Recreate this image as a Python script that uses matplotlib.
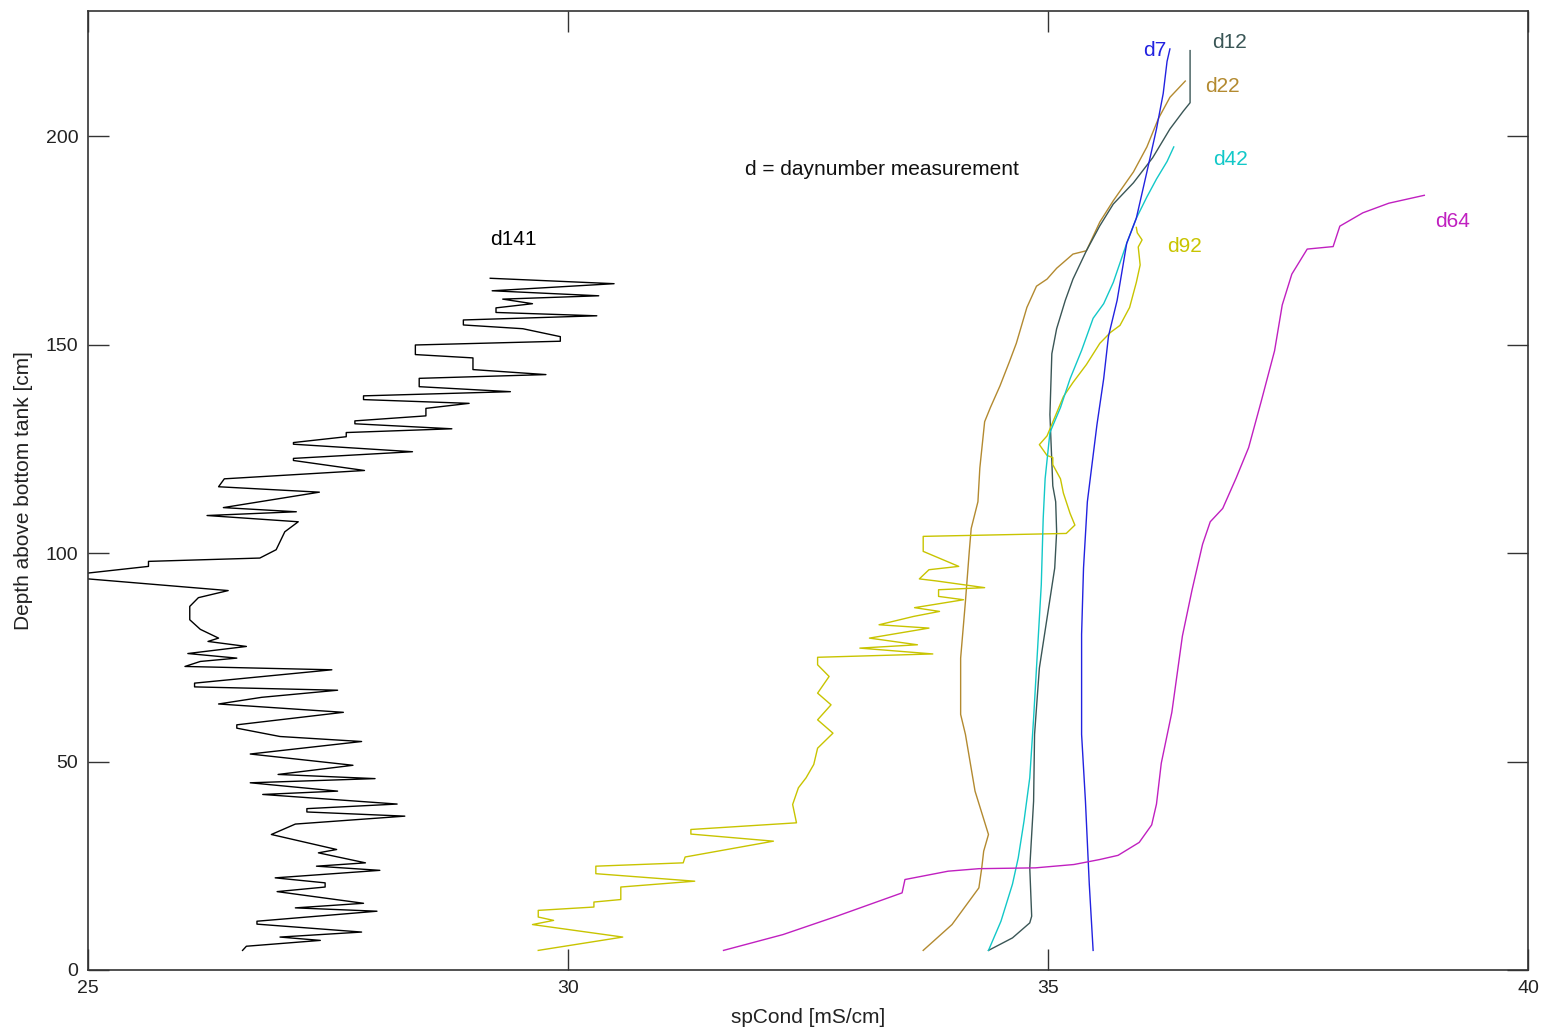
import matplotlib
matplotlib.use("Agg")
import matplotlib.pyplot as plt

plt.rcParams['font.family'] = ['Liberation Sans', 'DejaVu Sans']

# ---- data: (spCond [mS/cm], depth above bottom [cm]) ----
d141_x = [29.19, 30.48, 29.21, 30.32, 29.32, 29.63, 29.25, 29.25, 30.30, 28.91, 28.91, 29.53, 29.92, 29.92,
          28.41, 28.41, 29.01, 29.01, 29.77, 28.45, 28.45, 29.40, 27.87, 27.87, 28.97, 28.52, 28.52, 27.78,
          27.78, 28.79, 27.69, 27.69, 27.14, 27.14, 28.38, 27.14, 27.14, 27.88, 26.42, 26.36, 27.41, 26.41,
          27.17, 26.24, 27.19, 27.05, 26.96, 26.79, 25.63, 25.63, 25.00, 24.60, 25.00, 26.46,
          26.15, 26.06, 26.06, 26.17, 26.36, 26.25, 26.65, 26.04, 26.55, 26.17, 26.01, 27.54, 26.11, 26.11,
          27.60, 26.81, 26.36, 27.66, 26.55, 26.55, 27.00, 27.85, 26.69, 27.76, 26.98, 27.99, 26.69, 27.60,
          26.82, 28.22, 27.28, 27.28, 28.30, 27.16, 26.91, 27.59, 27.40, 27.89, 27.38, 28.04, 26.95, 27.47,
          27.47, 26.97, 27.87, 27.16, 28.01, 26.76, 26.76, 27.85, 27.00, 27.42, 26.65, 26.61]
d141_y = [165.9, 164.6, 162.9, 161.7, 160.9, 159.8, 158.8, 157.7, 156.9, 155.9, 154.7, 153.8, 151.9, 150.8,
          149.9, 147.6, 146.8, 144.0, 142.8, 141.9, 139.9, 138.7, 137.7, 136.8, 135.9, 134.7, 132.9, 131.7,
          131.0, 129.8, 128.9, 127.9, 126.5, 126.1, 124.3, 122.7, 122.2, 119.8, 117.8, 115.9, 114.6, 110.9,
          109.9, 109.0, 107.5, 105.1, 100.8, 98.8, 98.0, 96.8, 95.2, 94.5, 93.8, 91.0,
          89.3, 87.2, 84.0, 81.7, 79.6, 78.8, 77.6, 75.9, 74.8, 74.0, 72.8, 72.0, 68.8, 67.9,
          67.1, 65.4, 63.8, 61.8, 58.8, 58.0, 56.0, 54.8, 51.8, 49.1, 46.9, 45.9, 44.9, 42.9,
          42.1, 39.8, 38.7, 37.9, 36.9, 35.0, 32.5, 28.9, 28.1, 25.7, 24.9, 23.9, 22.1, 20.9,
          19.9, 18.8, 16.0, 14.9, 14.1, 11.7, 11.0, 9.1, 7.9, 7.1, 5.7, 4.7]

d92_x = [29.69, 30.57, 29.63, 29.85, 29.69, 29.69, 30.27, 30.27, 30.55, 30.55, 31.32, 30.29, 30.29, 31.20,
         31.22, 32.14, 31.28, 31.28, 32.38, 32.34, 32.40, 32.48, 32.56, 32.60, 32.76, 32.60, 32.74, 32.60,
         32.72, 32.60, 32.60, 33.80, 33.04, 33.64, 33.14, 33.76, 33.24, 33.60, 33.87, 33.61, 34.12, 33.86,
         33.86, 34.34, 33.84, 33.66, 33.76, 34.07, 33.70, 33.70, 35.19, 35.28, 35.23, 35.16, 35.13, 35.05,
         35.05, 34.99, 34.91, 34.99, 35.16, 35.26, 35.40, 35.54, 35.65, 35.75, 35.85, 35.92, 35.96, 35.94,
         35.98, 35.93, 35.92]
d92_y = [4.7, 7.9, 10.9, 11.9, 12.7, 14.3, 15.1, 16.3, 16.9, 19.9, 21.3, 23.1, 24.9, 25.7,
         27.1, 30.9, 32.6, 33.7, 35.3, 39.7, 43.7, 46.1, 49.3, 53.2, 56.8, 60.0, 63.6, 66.4,
         70.4, 73.2, 75.0, 75.8, 77.2, 78.0, 79.6, 82.0, 82.8, 84.8, 86.0, 86.9, 88.8, 89.6,
         91.2, 91.7, 93.3, 93.8, 96.0, 96.8, 100.4, 104.0, 104.7, 106.7, 109.5, 114.4, 117.8, 121.2,
         122.9, 123.4, 126.0, 128.1, 137.5, 140.9, 145.2, 150.3, 152.9, 154.6, 158.9, 164.9, 169.1, 173.4,
         175.1, 176.8, 178.1]

d22_x = [33.70, 34.00, 34.28, 34.31, 34.33, 34.38, 34.24, 34.14, 34.09, 34.09, 34.14, 34.18, 34.20, 34.27,
         34.29, 34.34, 34.40, 34.50, 34.60, 34.67, 34.78, 34.88, 34.99, 35.09, 35.26, 35.40, 35.54, 35.68,
         35.89, 36.03, 36.15, 36.27, 36.43]
d22_y = [4.7, 10.9, 19.7, 24.5, 28.5, 32.5, 42.9, 56.5, 61.3, 74.8, 88.4, 100.4, 105.9, 112.3,
         120.4, 131.5, 134.9, 140.1, 146.0, 150.3, 158.9, 164.0, 165.7, 168.3, 171.7, 172.5, 179.4, 184.5,
         191.4, 197.4, 204.2, 209.3, 213.2]

d12_x = [34.38, 34.63, 34.81, 34.83, 34.81, 34.85, 34.86, 34.91, 34.99, 35.07, 35.09, 35.08, 35.05, 35.02,
         35.04, 35.09, 35.18, 35.26, 35.40, 35.54, 35.68, 35.89, 36.09, 36.27, 36.41, 36.48, 36.48]
d12_y = [4.7, 7.7, 11.3, 12.9, 24.5, 40.5, 56.5, 72.4, 84.4, 96.4, 105.1, 112.3, 116.1, 133.2,
         147.8, 153.8, 160.6, 165.7, 172.5, 178.5, 183.7, 188.8, 194.8, 201.7, 206.0, 208.0, 220.5]

d42_x = [34.38, 34.51, 34.63, 34.69, 34.75, 34.81, 34.85, 34.89, 34.93, 34.95, 34.97, 35.02, 35.13, 35.23,
         35.35, 35.47, 35.58, 35.68, 35.82, 35.92, 36.03, 36.13, 36.24, 36.31]
d42_y = [4.7, 11.7, 20.6, 26.9, 35.7, 46.1, 60.4, 76.4, 92.4, 108.3, 117.8, 128.9, 134.9, 141.8,
         148.6, 156.3, 159.8, 164.9, 174.3, 180.3, 185.4, 189.7, 193.9, 197.4]

d7_x = [35.47, 35.43, 35.39, 35.35, 35.35, 35.37, 35.41, 35.51, 35.58, 35.63, 35.72, 35.82, 35.92, 36.03,
        36.13, 36.20, 36.24, 36.27]
d7_y = [4.7, 20.6, 40.5, 56.5, 80.5, 96.4, 112.3, 130.8, 141.8, 152.0, 160.6, 174.3, 180.3, 191.4,
        201.7, 210.2, 217.9, 220.9]

d64_x = [31.62, 32.24, 32.80, 33.48, 33.51, 33.96, 34.28, 34.87, 35.27, 35.54, 35.73, 35.95, 36.08, 36.13,
         36.18, 36.29, 36.40, 36.50, 36.61, 36.69, 36.82, 36.96, 37.09, 37.22, 37.36, 37.44, 37.54, 37.70,
         37.97, 38.04, 38.28, 38.55, 38.92]
d64_y = [4.7, 8.5, 12.9, 18.5, 21.7, 23.7, 24.3, 24.5, 25.3, 26.5, 27.5, 30.6, 34.8, 39.8,
         49.6, 61.8, 80.1, 91.1, 102.1, 107.5, 110.7, 118.0, 125.3, 136.3, 148.5, 159.5, 166.9, 172.9,
         173.5, 178.4, 181.6, 183.9, 185.8]

labels = ["d141", "d92", "d22", "d12", "d42", "d7", "d64"]
label_x = [29.19, 36.24, 36.64, 36.71, 36.72, 35.99, 39.03]
label_y = [175.1, 173.4, 212.0, 222.5, 194.5, 220.6, 179.4]

xticks = [25, 30, 35, 40]
yticks = [0, 50, 100, 150, 200]

# ---- styling ----
colors = {
    "d141": "#000000",
    "d92": "#c8c400",
    "d22": "#b38a30",
    "d12": "#3a5656",
    "d42": "#12c8c8",
    "d7": "#2222e0",
    "d64": "#c020c0",
}
series = {
    "d141": (d141_x, d141_y),
    "d92": (d92_x, d92_y),
    "d22": (d22_x, d22_y),
    "d12": (d12_x, d12_y),
    "d42": (d42_x, d42_y),
    "d7": (d7_x, d7_y),
    "d64": (d64_x, d64_y),
}

fig = plt.figure(figsize=(15.42, 10.29), dpi=100)
ax = fig.add_axes([88 / 1542, 1 - 970 / 1029, (1528 - 88) / 1542, (970 - 11) / 1029])

for name in ["d141", "d22", "d12", "d92", "d42", "d7", "d64"]:
    xs, ys = series[name]
    ax.plot(xs, ys, color=colors[name], lw=1.0)

for lab, lx, ly in zip(labels, label_x, label_y):
    ax.text(lx, ly, lab, color=colors[lab], fontsize=15, ha="left", va="center")

ax.text(31.84, 191.9, "d = daynumber measurement", fontsize=15, ha="left", va="center", color="#111111")

ax.set_xlim(25, 40)
ax.set_ylim(0, 230)
ax.set_xticks(xticks)
ax.set_yticks(yticks)
ax.tick_params(direction="in", length=15, width=1.0, top=True, right=True,
               labelsize=14, pad=7, colors="#333333", labelcolor="#222222")
for s in ax.spines.values():
    s.set_linewidth(1.2)
    s.set_color("#333333")

ax.set_xlabel("spCond [mS/cm]", fontsize=15, labelpad=8, color="#222222")
ax.set_ylabel("Depth above bottom tank [cm]", fontsize=15, labelpad=9, color="#222222")

fig.savefig("out.png", dpi=100, facecolor="white")
